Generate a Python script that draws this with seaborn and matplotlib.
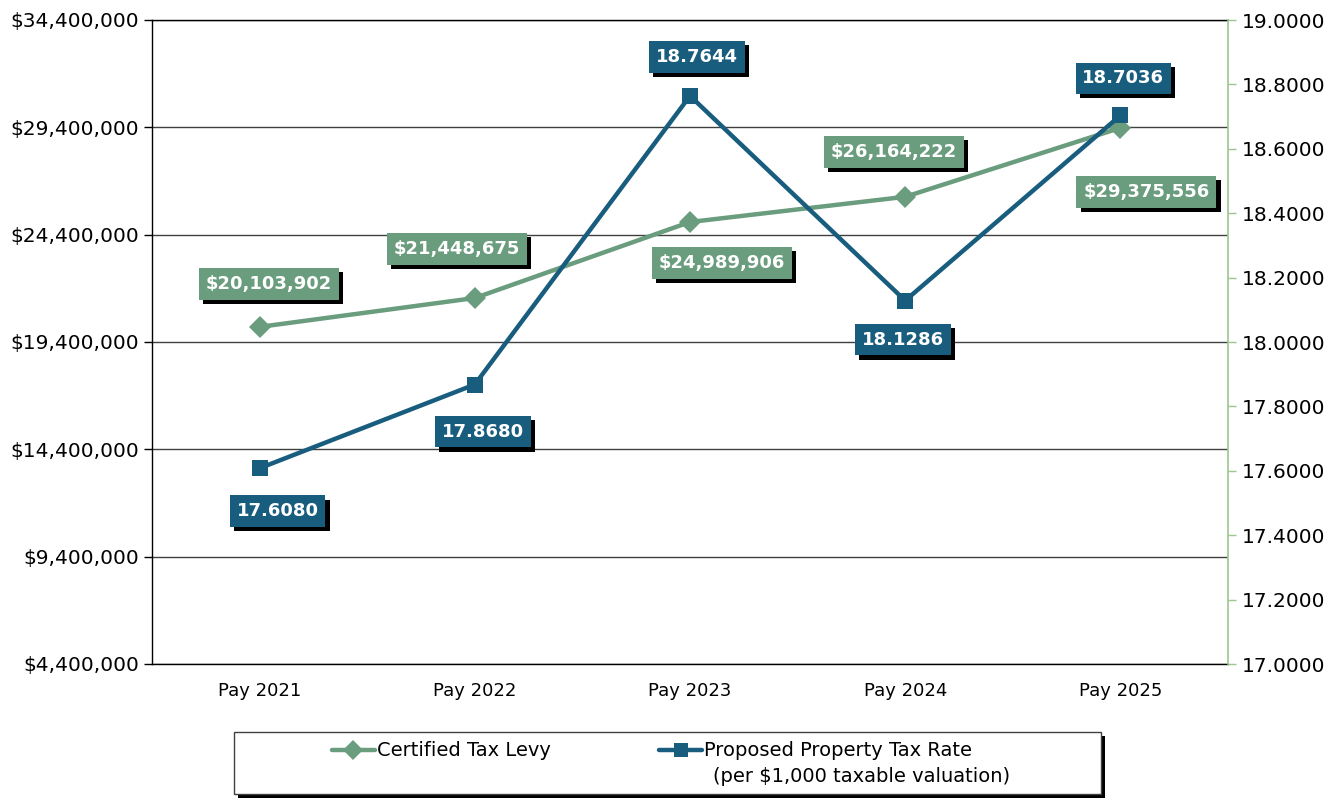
import numpy as np
import matplotlib
matplotlib.use("Agg")
import matplotlib.pyplot as plt
import matplotlib.patheffects as pe
from matplotlib.patches import Rectangle
from matplotlib.ticker import FuncFormatter, FixedLocator
import seaborn as sns

# data
years = ["Pay 2021", "Pay 2022", "Pay 2023", "Pay 2024", "Pay 2025"]
levy = [20103902, 21448675, 24989906, 26164222, 29375556]
rate = [17.6080, 17.8680, 18.7644, 18.1286, 18.7036]

# label offsets in pixels (x, y)
levy_offsets = [(9, 43), (-18, 49), (32, -41), (-11, 45), (26, -64)]
rate_offsets = [(18, -43), (8, -47), (7, 39), (-2, -39), (3, 37)]

GREEN = "#6a9c7e"
BLUE = "#195d7e"
AXIS_GREEN = "#9cc68c"

sns.set_style("white")
plt.rcParams["font.family"] = ["DejaVu Sans"]

W, H = 1336, 798
fig = plt.figure(figsize=(W / 100, H / 100), dpi=100)
ax = fig.add_axes([152 / W, 1 - 664 / H, 1076 / W, 644 / H])
ax2 = ax.twinx()

xpos = np.arange(len(years))

sns.lineplot(x=xpos, y=levy, ax=ax, color=GREEN, lw=3.2, marker="D",
             markersize=11, markeredgewidth=0, zorder=3)
sns.lineplot(x=xpos, y=rate, ax=ax2, color=BLUE, lw=3.2, marker="s",
             markersize=11, markeredgewidth=0, zorder=3)

ax.set_xlim(-0.5, 4.5)
ax.set_ylim(4400000, 34400000)
ax2.set_ylim(17.0, 19.0)

ax.set_yticks(np.arange(4400000, 34400001, 5000000))
ax.yaxis.set_major_formatter(FuncFormatter(lambda v, p: f"${v:,.0f}"))
ax2.set_yticks(np.arange(17.0, 19.01, 0.2))
ax2.yaxis.set_major_formatter(FuncFormatter(lambda v, p: f"{v:.4f}"))

ax.set_xticks(xpos)
ax.set_xticklabels(years)
ax.xaxis.set_minor_locator(FixedLocator(np.arange(-0.5, 4.6, 1.0)))
ax.tick_params(axis="x", which="major", length=0, pad=13, labelsize=13, labelcolor="black")
ax.tick_params(axis="x", which="minor", length=6, width=1, color="black", direction="out")
ax.tick_params(axis="y", length=6, width=1, color="black", direction="out",
               labelsize=14.5, pad=3, labelcolor="black")
ax2.tick_params(axis="y", length=6, width=1, color=AXIS_GREEN, direction="out",
                labelsize=14.5, pad=4, labelcolor="black")

ax.grid(True, axis="y", color="#404040", lw=1)
ax.grid(False, axis="x")
ax2.grid(False)
for s in ["left", "bottom", "top"]:
    ax.spines[s].set_color("black")
    ax.spines[s].set_linewidth(1)
ax.spines["right"].set_visible(False)
for s in ["left", "bottom", "top"]:
    ax2.spines[s].set_visible(False)
ax2.spines["right"].set_color(AXIS_GREEN)
ax2.spines["right"].set_linewidth(1.2)
ax.set_xlabel("")
ax.set_ylabel("")
ax2.set_ylabel("")

shadow = [pe.SimplePatchShadow(offset=(3, -3), shadow_rgbFace="black", alpha=1.0), pe.Normal()]


def add_label(x, y, text, color, offset, trans):
    ann = ax2.annotate(text, xy=(x, y), xycoords=trans, xytext=offset,
                       textcoords="offset pixels", ha="center", va="center",
                       fontsize=13, fontweight="bold", color="white", zorder=10,
                       bbox=dict(boxstyle="square,pad=0.38", fc=color, ec="none"))
    ann.get_bbox_patch().set_path_effects(shadow)


for i in range(len(years)):
    add_label(xpos[i], levy[i], f"${levy[i]:,}", GREEN, levy_offsets[i], ax.transData)
    add_label(xpos[i], rate[i], f"{rate[i]:.4f}", BLUE, rate_offsets[i], ax2.transData)

# legend box
box = Rectangle((234 / W, 4 / H), 867 / W, 62 / H, transform=fig.transFigure,
                fc="white", ec="#404040", lw=1, zorder=1)
box.set_path_effects(shadow)
fig.patches.append(box)

h1 = plt.Line2D([], [], color=GREEN, lw=3.2, marker="D", markersize=10, markeredgewidth=0)
h2 = plt.Line2D([], [], color=BLUE, lw=3.2, marker="s", markersize=10, markeredgewidth=0)
leg = fig.legend([h1, h2], ["Certified Tax Levy", "Proposed Property Tax Rate"],
                 loc="center left", bbox_to_anchor=(332 / W, 1 - 751 / H), ncol=2,
                 fontsize=14, handlelength=2.2, handletextpad=0.1,
                 columnspacing=5.6, frameon=False, borderaxespad=0, borderpad=0)
for t in leg.get_texts():
    t.set_color("black")
fig.text(713 / W, 1 - 777 / H, "(per $1,000 taxable valuation)", fontsize=14,
         ha="left", va="center", color="black")

fig.savefig("out.png", dpi=100)
